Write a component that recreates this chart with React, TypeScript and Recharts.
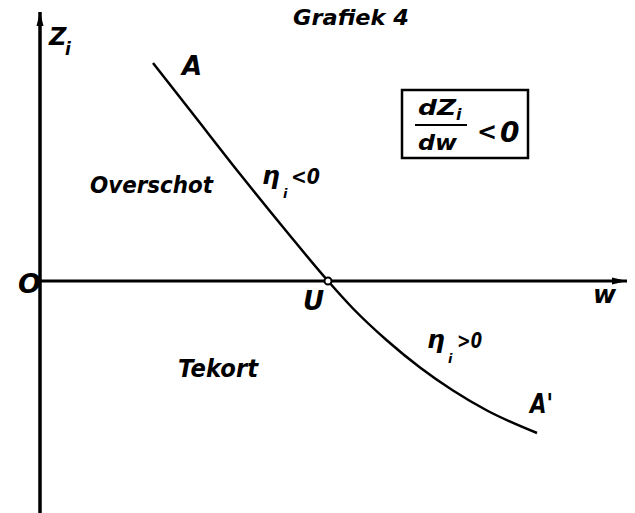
import React from 'react';
import { LineChart, Line, XAxis, YAxis, ReferenceLine, ReferenceDot, ReferenceArea } from 'recharts';

// Curve A–A' (w, Z_i) (1 unit = 10 px)
const wValues = [11.3, 15.3, 20.0, 24.7, 28.8, 31.3, 34.7, 38.0, 41.3, 44.7, 49.7];
const ziValues = [21.8, 16.7, 10.7, 4.9, 0.0, -2.75, -5.95, -8.65, -10.95, -12.95, -15.2];
const equilibriumW = 28.8; // point U
const data = wValues.map((w, i) => ({ w, zi: ziValues[i] }));

const W = 635;
const H = 513;
const margin = { top: 12, right: 8, bottom: 0, left: 40 };
const xDomain: [number, number] = [0, 58.7];
const yDomain: [number, number] = [-23.2, 26.9];

const FONT = {
  fontFamily: '"DejaVu Sans", sans-serif',
  fontStyle: 'italic' as const,
  fontWeight: 700,
  fill: '#000',
};

type Ann = { x: number; y: number; text: string; size: number; len?: number };

const annotations: Ann[] = [
  { x: 25.3, y: 25.6, text: 'Grafiek 4', size: 22, len: 116 },
  { x: 0.9, y: 23.6, text: 'Z', size: 24 },
  { x: 2.5, y: 22.6, text: 'i', size: 17 },
  { x: 14.2, y: 20.6, text: 'A', size: 26 },
  { x: 5.0, y: 8.8, text: 'Overschot', size: 23, len: 123 },
  { x: 22.2, y: 9.7, text: 'η', size: 25 },
  { x: 24.3, y: 8.3, text: 'i', size: 13 },
  { x: 25.1, y: 9.7, text: '<0', size: 22, len: 29 },
  { x: -2.2, y: -1.2, text: 'O', size: 27 },
  { x: 26.3, y: -2.9, text: 'U', size: 26 },
  { x: 55.3, y: -2.2, text: 'w', size: 25 },
  { x: 38.7, y: -6.7, text: 'η', size: 25 },
  { x: 40.8, y: -8.2, text: 'i', size: 13 },
  { x: 41.7, y: -6.7, text: '>0', size: 21, len: 25 },
  { x: 13.8, y: -9.6, text: 'Tekort', size: 25, len: 80 },
  { x: 49.0, y: -13.2, text: "A'", size: 26, len: 23 },
  // boxed derivative
  { x: 37.8, y: 16.6, text: 'dZ', size: 22, len: 38 },
  { x: 41.6, y: 16.1, text: 'i', size: 16 },
  { x: 37.8, y: 13.1, text: 'dw', size: 22, len: 39 },
  { x: 43.7, y: 14.1, text: '<', size: 24 },
  { x: 46.0, y: 13.9, text: '0', size: 28 },
];

const textShape = (a: Ann) => (p: any) => (
  <text
    x={p.cx}
    y={p.cy}
    fontSize={a.size}
    {...FONT}
    {...(a.len ? { textLength: a.len, lengthAdjust: 'spacingAndGlyphs' } : {})}
  >
    {a.text}
  </text>
);

const upArrow = (p: any) => (
  <polygon points={`${p.cx},${p.cy} ${p.cx - 3.5},${p.cy + 14} ${p.cx + 3.5},${p.cy + 14}`} fill="#000" />
);
const rightArrow = (p: any) => (
  <polygon points={`${p.cx},${p.cy} ${p.cx - 15},${p.cy - 3.5} ${p.cx - 15},${p.cy + 3.5}`} fill="#000" />
);

export default function App() {
  return (
    <div style={{ position: 'absolute', left: 0, top: 0, width: W, height: H, background: '#fff' }}>
      <LineChart width={W} height={H} data={data} margin={margin}>
        <XAxis type="number" dataKey="w" domain={xDomain} hide allowDataOverflow />
        <YAxis type="number" domain={yDomain} hide allowDataOverflow />
        <ReferenceLine x={0} stroke="#000" strokeWidth={3.5} ifOverflow="visible" />
        <ReferenceLine y={0} stroke="#000" strokeWidth={3} ifOverflow="visible" />
        <ReferenceDot x={0} y={yDomain[1]} r={0} shape={upArrow} ifOverflow="visible" />
        <ReferenceDot x={xDomain[1]} y={0} r={0} shape={rightArrow} ifOverflow="visible" />
        <ReferenceArea
          x1={36.2}
          x2={48.8}
          y1={12.3}
          y2={19.1}
          fill="none"
          fillOpacity={0}
          stroke="#000"
          strokeWidth={2.5}
          ifOverflow="visible"
        />
        <ReferenceLine
          segment={[
            { x: 37.5, y: 15.6 },
            { x: 42.7, y: 15.6 },
          ]}
          stroke="#000"
          strokeWidth={2}
          ifOverflow="visible"
        />
        <Line
          type="monotone"
          dataKey="zi"
          stroke="#000"
          strokeWidth={2.5}
          dot={false}
          activeDot={false}
          isAnimationActive={false}
        />
        <ReferenceDot x={equilibriumW} y={0} r={3.5} fill="#fff" stroke="#000" strokeWidth={2} ifOverflow="visible" />
        {annotations.map((a, i) => (
          <ReferenceDot key={i} x={a.x} y={a.y} r={0} shape={textShape(a)} ifOverflow="visible" />
        ))}
      </LineChart>
    </div>
  );
}
